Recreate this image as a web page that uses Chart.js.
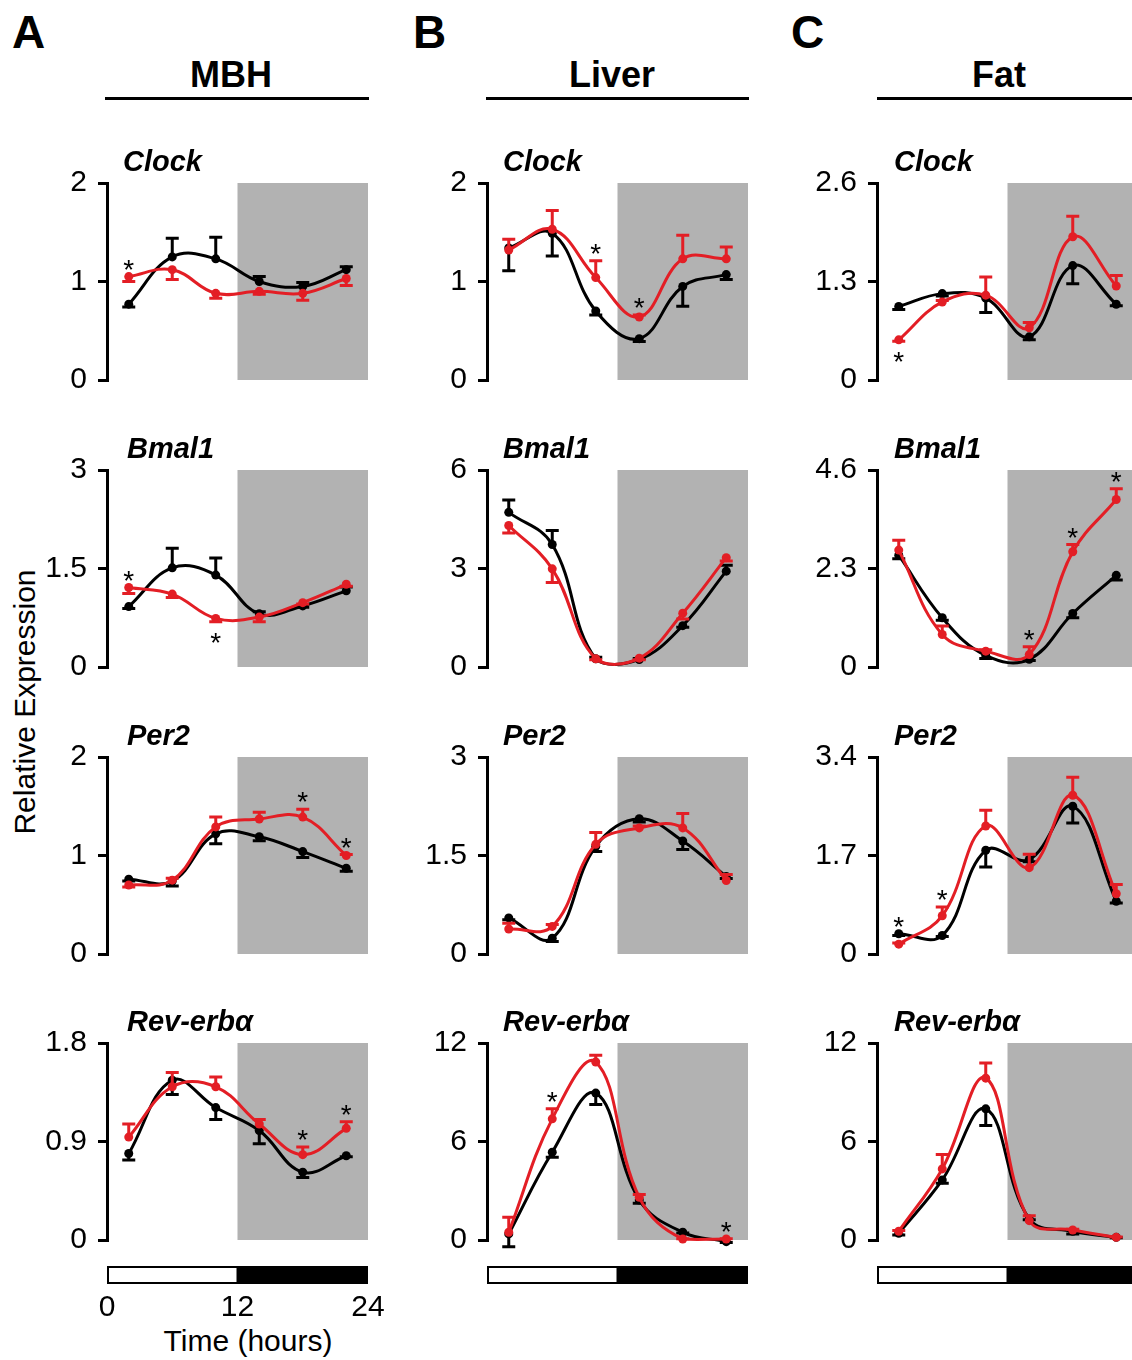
<!DOCTYPE html>
<html lang="en">
<head>
<meta charset="UTF-8">
<title>Clock gene expression — MBH, Liver, Fat</title>
<script src="https://cdn.jsdelivr.net/npm/chart.js"></script>
<style>
  body {
    margin: 0;
    background: #fff;
    width: 1132px;
    height: 1360px;
    position: relative;
    overflow: hidden;
    font-family: 'Liberation Sans', Arial, sans-serif;
    color: #000;
  }
  canvas { position: absolute; }
  .lbl { position: absolute; line-height: 1; white-space: nowrap; }
  .letter { font-size: 46px; font-weight: bold; }
  .tissue { font-size: 36px; font-weight: bold; transform: translateX(-50%); }
  .rule { position: absolute; height: 3px; background: #000; }
  .ylab { font-size: 30px; transform: translate(-50%, -50%) rotate(-90deg); }
  .xlab { font-size: 30px; transform: translateX(-50%); }
</style>
</head>
<body>
  <div class="lbl letter" style="left:12px;top:9px">A</div>
  <div class="lbl letter" style="left:413px;top:9px">B</div>
  <div class="lbl letter" style="left:791px;top:9px">C</div>

  <div class="lbl tissue" style="left:231px;top:57px">MBH</div>
  <div class="lbl tissue" style="left:612px;top:57px">Liver</div>
  <div class="lbl tissue" style="left:999px;top:57px">Fat</div>
  <div class="rule" style="left:105px;top:97px;width:264px"></div>
  <div class="rule" style="left:486px;top:97px;width:263px"></div>
  <div class="rule" style="left:877px;top:97px;width:255px"></div>

  <div class="lbl ylab" style="left:25px;top:702px">Relative Expression</div>
  <div class="lbl xlab" style="left:248px;top:1326px">Time (hours)</div>

<script>
// sampling times (h) and light/dark bar
const hours = [2, 6, 10, 14, 18, 22];
const timeTicks = [0, 12, 24];
const darkPhase = [12, 24];

// error values are signed: + bar drawn above the mean, - below

// MBH
const mbhClockTicks = [0, 1, 2];
const mbhClockBlack = [0.77, 1.25, 1.23, 1.00, 0.95, 1.12];
const mbhClockBlackErr = [-0.03, 0.19, 0.22, 0.05, 0.04, 0.03];
const mbhClockRed = [1.05, 1.12, 0.88, 0.90, 0.88, 1.03];
const mbhClockRedErr = [-0.05, -0.10, -0.05, -0.03, -0.07, -0.07];
const mbhClockStars = [[2, 'up']];

const mbhBmalTicks = [0, 1.5, 3];
const mbhBmalBlack = [0.92, 1.51, 1.40, 0.81, 0.93, 1.16];
const mbhBmalBlackErr = [-0.03, 0.30, 0.26, 0.03, -0.02, 0.06];
const mbhBmalRed = [1.21, 1.11, 0.74, 0.76, 0.98, 1.26];
const mbhBmalRedErr = [-0.09, -0.05, -0.05, -0.07, -0.02, -0.03];
const mbhBmalStars = [[2, 'up'], [10, 'down']];

const mbhPerTicks = [0, 1, 2];
const mbhPerBlack = [0.76, 0.74, 1.22, 1.19, 1.04, 0.87];
const mbhPerBlackErr = [-0.02, -0.05, -0.10, -0.04, -0.06, -0.03];
const mbhPerRed = [0.70, 0.75, 1.29, 1.37, 1.39, 1.00];
const mbhPerRedErr = [-0.02, 0.02, 0.10, 0.07, 0.08, 0.01];
const mbhPerStars = [[18, 'up'], [22, 'up']];

const mbhRevTicks = [0, 0.9, 1.8];
const mbhRevBlack = [0.79, 1.46, 1.21, 1.00, 0.62, 0.77];
const mbhRevBlackErr = [-0.06, -0.13, -0.11, -0.12, -0.05, -0.01];
const mbhRevRed = [0.94, 1.40, 1.40, 1.06, 0.78, 1.02];
const mbhRevRedErr = [0.12, 0.13, 0.09, 0.04, 0.07, 0.06];
const mbhRevStars = [[18, 'up'], [22, 'up']];

// Liver
const livClockTicks = [0, 1, 2];
const livClockBlack = [1.34, 1.49, 0.70, 0.42, 0.95, 1.07];
const livClockBlackErr = [-0.23, -0.23, -0.04, -0.03, -0.20, -0.05];
const livClockRed = [1.32, 1.53, 1.04, 0.64, 1.23, 1.23];
const livClockRedErr = [0.11, 0.19, 0.17, 0.02, 0.24, 0.12];
const livClockStars = [[10, 'up'], [14, 'up']];

const livBmalTicks = [0, 3, 6];
const livBmalBlack = [4.71, 3.73, 0.25, 0.23, 1.26, 2.92];
const livBmalBlackErr = [0.38, 0.43, 0.05, 0.03, -0.05, 0.18];
const livBmalRed = [4.31, 2.99, 0.25, 0.27, 1.64, 3.33];
const livBmalRedErr = [-0.23, -0.42, -0.03, -0.05, -0.18, -0.10];
const livBmalStars = [];

const livPerTicks = [0, 1.5, 3];
const livPerBlack = [0.55, 0.24, 1.64, 2.06, 1.72, 1.18];
const livPerBlackErr = [-0.03, -0.05, -0.08, -0.05, -0.13, -0.03];
const livPerRed = [0.38, 0.42, 1.67, 1.92, 1.92, 1.12];
const livPerRedErr = [0.09, 0.03, 0.18, 0.03, 0.22, 0.09];
const livPerStars = [];

const livRevTicks = [0, 6, 12];
const livRevBlack = [0.37, 5.35, 8.95, 2.44, 0.47, -0.10];
const livRevBlackErr = [-0.78, -0.31, -0.69, -0.20, -0.05, -0.05];
const livRevRed = [0.47, 7.38, 10.84, 2.60, 0.06, 0.06];
const livRevRedErr = [0.91, 0.61, 0.41, 0.17, 0.02, 0.02];
const livRevStars = [[6, 'up'], [22, 'up']];

// Fat
const fatClockTicks = [0, 1.3, 2.6];
const fatClockBlack = [0.97, 1.14, 1.08, 0.57, 1.51, 1.00];
const fatClockBlackErr = [-0.04, -0.03, -0.19, -0.04, -0.24, -0.02];
const fatClockRed = [0.53, 1.03, 1.12, 0.69, 1.89, 1.24];
const fatClockRedErr = [-0.02, 0.02, 0.24, 0.07, 0.27, 0.14];
const fatClockStars = [[2, 'down']];

const fatBmalTicks = [0, 2.3, 4.6];
const fatBmalBlack = [2.61, 1.15, 0.27, 0.18, 1.25, 2.14];
const fatBmalBlackErr = [-0.08, -0.06, -0.07, -0.03, -0.10, -0.11];
const fatBmalRed = [2.73, 0.76, 0.37, 0.29, 2.69, 3.91];
const fatBmalRedErr = [0.23, 0.20, 0.03, 0.18, 0.17, 0.25];
const fatBmalStars = [[14, 'up'], [18, 'up'], [22, 'up']];

const fatPerTicks = [0, 1.7, 3.4];
const fatPerBlack = [0.35, 0.32, 1.79, 1.63, 2.55, 0.91];
const fatPerBlackErr = [-0.03, -0.02, -0.29, -0.04, -0.29, -0.03];
const fatPerRed = [0.17, 0.66, 2.21, 1.49, 2.74, 1.04];
const fatPerRedErr = [0.02, 0.15, 0.27, 0.23, 0.31, 0.16];
const fatPerStars = [[2, 'up'], [6, 'up']];

const fatRevTicks = [0, 6, 12];
const fatRevBlack = [0.41, 3.66, 7.99, 1.28, 0.53, 0.16];
const fatRevBlackErr = [-0.10, -0.20, -1.01, -0.05, -0.16, -0.02];
const fatRevRed = [0.53, 4.33, 9.86, 1.18, 0.61, 0.16];
const fatRevRedErr = [0.05, 0.88, 0.92, 0.30, 0.05, 0.02];
const fatRevStars = [];

const panels = [
  { col: 0, row: 0, gene: 'Clock', ticks: mbhClockTicks, black: mbhClockBlack, blackErr: mbhClockBlackErr, red: mbhClockRed, redErr: mbhClockRedErr, stars: mbhClockStars },
  { col: 0, row: 1, gene: 'Bmal1', ticks: mbhBmalTicks, black: mbhBmalBlack, blackErr: mbhBmalBlackErr, red: mbhBmalRed, redErr: mbhBmalRedErr, stars: mbhBmalStars },
  { col: 0, row: 2, gene: 'Per2', ticks: mbhPerTicks, black: mbhPerBlack, blackErr: mbhPerBlackErr, red: mbhPerRed, redErr: mbhPerRedErr, stars: mbhPerStars },
  { col: 0, row: 3, gene: 'Rev-erbα', ticks: mbhRevTicks, black: mbhRevBlack, blackErr: mbhRevBlackErr, red: mbhRevRed, redErr: mbhRevRedErr, stars: mbhRevStars },
  { col: 1, row: 0, gene: 'Clock', ticks: livClockTicks, black: livClockBlack, blackErr: livClockBlackErr, red: livClockRed, redErr: livClockRedErr, stars: livClockStars },
  { col: 1, row: 1, gene: 'Bmal1', ticks: livBmalTicks, black: livBmalBlack, blackErr: livBmalBlackErr, red: livBmalRed, redErr: livBmalRedErr, stars: livBmalStars },
  { col: 1, row: 2, gene: 'Per2', ticks: livPerTicks, black: livPerBlack, blackErr: livPerBlackErr, red: livPerRed, redErr: livPerRedErr, stars: livPerStars },
  { col: 1, row: 3, gene: 'Rev-erbα', ticks: livRevTicks, black: livRevBlack, blackErr: livRevBlackErr, red: livRevRed, redErr: livRevRedErr, stars: livRevStars },
  { col: 2, row: 0, gene: 'Clock', ticks: fatClockTicks, black: fatClockBlack, blackErr: fatClockBlackErr, red: fatClockRed, redErr: fatClockRedErr, stars: fatClockStars },
  { col: 2, row: 1, gene: 'Bmal1', ticks: fatBmalTicks, black: fatBmalBlack, blackErr: fatBmalBlackErr, red: fatBmalRed, redErr: fatBmalRedErr, stars: fatBmalStars },
  { col: 2, row: 2, gene: 'Per2', ticks: fatPerTicks, black: fatPerBlack, blackErr: fatPerBlackErr, red: fatPerRed, redErr: fatPerRedErr, stars: fatPerStars },
  { col: 2, row: 3, gene: 'Rev-erbα', ticks: fatRevTicks, black: fatRevBlack, blackErr: fatRevBlackErr, red: fatRevRed, redErr: fatRevRedErr, stars: fatRevStars }
];

// layout of the grid (page pixels)
const axisX = [107, 487, 877];
const plotTop = [183, 470, 757, 1043];
const PLOT_W = 261, PLOT_H = 197;
const PAD_L = 110, PAD_T = 50, PAD_R = 24;
const titleDx = [[16, 20, 20, 20], [16, 16, 16, 16], [17, 17, 17, 17]];

const RED = '#e31e25';
const BLACK = '#000';
const SHADE = '#b2b2b2';
const FONT = "'Liberation Sans', Arial, sans-serif";

function decoPlugin(p, isBottom) {
  return {
    id: 'deco',
    beforeDatasetsDraw(chart) {
      const { ctx, scales: { x, y } } = chart;
      const x0 = x.getPixelForValue(darkPhase[0]);
      const x1 = x.getPixelForValue(darkPhase[1]);
      const yT = y.getPixelForValue(y.max);
      const yB = y.getPixelForValue(0);
      ctx.save();
      ctx.fillStyle = SHADE;
      ctx.fillRect(x0, yT, x1 - x0, yB - yT);
      ctx.restore();
    },
    afterDatasetDraw(chart, args) {
      const { ctx, scales: { x, y } } = chart;
      const ds = chart.data.datasets[args.index];
      ctx.save();
      ctx.strokeStyle = ds.borderColor;
      ctx.lineWidth = 3;
      ds.err.forEach((e, i) => {
        if (!e) return;
        const px = x.getPixelForValue(hours[i]);
        const py = y.getPixelForValue(ds.data[i].y);
        const pe = y.getPixelForValue(ds.data[i].y + e);
        ctx.beginPath();
        ctx.moveTo(px, py);
        ctx.lineTo(px, pe);
        ctx.moveTo(px - 6.5, pe);
        ctx.lineTo(px + 6.5, pe);
        ctx.stroke();
      });
      ctx.restore();
    },
    afterDatasetsDraw(chart) {
      const { ctx, chartArea, scales: { x, y } } = chart;
      ctx.save();
      // significance marks
      ctx.fillStyle = BLACK;
      ctx.font = '28px ' + FONT;
      ctx.textAlign = 'center';
      ctx.textBaseline = 'alphabetic';
      p.stars.forEach(([t, side]) => {
        const i = hours.indexOf(t);
        const ends = [p.black[i], p.black[i] + p.blackErr[i], p.red[i], p.red[i] + p.redErr[i]];
        const v = side === 'up' ? Math.max(...ends) : Math.min(...ends);
        const cy = y.getPixelForValue(v) + (side === 'up' ? -14 : 14);
        ctx.fillText('*', x.getPixelForValue(t), cy + 16);
      });
      // gene name
      ctx.font = 'italic bold 29px ' + FONT;
      ctx.textAlign = 'left';
      ctx.fillText(p.gene, chartArea.left + titleDx[p.col][p.row], chartArea.top - 12);
      // light / dark bar
      if (isBottom) {
        const by = chartArea.bottom + 26, bh = 18;
        const b0 = x.getPixelForValue(timeTicks[0]);
        const b1 = x.getPixelForValue(timeTicks[1]);
        const b2 = x.getPixelForValue(timeTicks[2]);
        ctx.fillStyle = BLACK;
        ctx.fillRect(b1, by, b2 - b1, bh);
        ctx.fillStyle = '#fff';
        ctx.fillRect(b0, by, b1 - b0, bh);
        ctx.strokeStyle = BLACK;
        ctx.lineWidth = 2;
        ctx.strokeRect(b0 + 1, by + 1, b1 - b0 - 1, bh - 2);
      }
      ctx.restore();
    }
  };
}

panels.forEach(p => {
  const isBottom = p.row === 3;
  const showX = isBottom && p.col === 0;
  const padB = isBottom ? 121 : 40;
  const canvas = document.createElement('canvas');
  canvas.width = PAD_L + PLOT_W + PAD_R;
  canvas.height = PAD_T + PLOT_H + padB;
  canvas.style.left = (axisX[p.col] - PAD_L) + 'px';
  canvas.style.top = (plotTop[p.row] - PAD_T) + 'px';
  document.body.appendChild(canvas);

  const series = (vals, errs, color, order) => ({
    data: hours.map((h, i) => ({ x: h, y: vals[i] })),
    err: errs,
    borderColor: color,
    backgroundColor: color,
    pointBackgroundColor: color,
    pointBorderColor: color,
    borderWidth: 3,
    pointRadius: 4.5,
    pointBorderWidth: 0,
    tension: 0.4,
    clip: false,
    order
  });

  new Chart(canvas, {
    type: 'line',
    data: {
      datasets: [
        series(p.black, p.blackErr, BLACK, 1),
        series(p.red, p.redErr, RED, 0)
      ]
    },
    options: {
      responsive: false,
      animation: false,
      devicePixelRatio: 1,
      layout: { padding: { top: PAD_T, right: PAD_R, left: 0, bottom: showX ? 0 : padB } },
      plugins: { legend: { display: false }, tooltip: { enabled: false } },
      scales: {
        x: {
          type: 'linear',
          min: 0,
          max: 24,
          display: showX,
          afterBuildTicks: s => { s.ticks = timeTicks.map(v => ({ value: v })); },
          afterFit: s => { s.height = showX ? padB : 0; },
          // invisible tick marks push the labels below the light/dark bar
          grid: { display: true, drawOnChartArea: false, drawTicks: true, tickLength: 50, color: 'rgba(0,0,0,0)' },
          border: { display: false },
          ticks: { color: BLACK, font: { family: FONT, size: 30 }, padding: 0, maxRotation: 0, autoSkip: false }
        },
        y: {
          min: 0,
          max: p.ticks[p.ticks.length - 1],
          afterBuildTicks: s => { s.ticks = p.ticks.map(v => ({ value: v })); },
          afterFit: s => { s.width = PAD_L; },
          grid: { display: true, drawOnChartArea: false, drawTicks: true, tickLength: 9, color: BLACK, lineWidth: 3 },
          border: { display: true, color: BLACK, width: 3 },
          ticks: {
            color: BLACK,
            font: { family: FONT, size: 30 },
            padding: 11,
            autoSkip: false,
            callback: (v, i) => String(p.ticks[i])
          }
        }
      }
    },
    plugins: [decoPlugin(p, isBottom)]
  });
});
</script>
</body>
</html>
